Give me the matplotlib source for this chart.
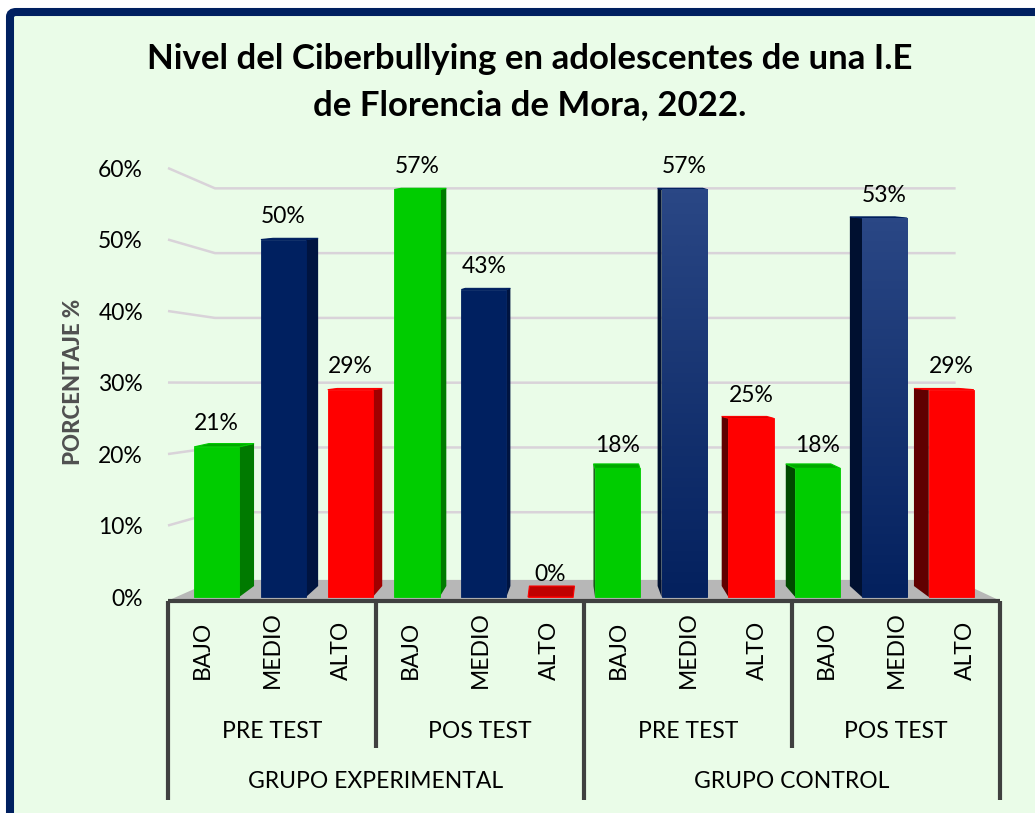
"""
Nivel del Ciberbullying - 3D-style grouped bar chart (Excel look).
"""

import matplotlib
matplotlib.use('Agg')
import matplotlib.pyplot as plt
from matplotlib.patches import Polygon, FancyBboxPatch
import numpy as np

# === DATA ===
NIVELES = ['BAJO', 'MEDIO', 'ALTO']
MOMENTOS = ['PRE TEST', 'POS TEST', 'PRE TEST', 'POS TEST']
GRUPOS = ['GRUPO EXPERIMENTAL', 'GRUPO CONTROL']
EXP_PRE = [0.21, 0.50, 0.29]
EXP_POS = [0.57, 0.43, 0.00]
CTRL_PRE = [0.18, 0.57, 0.25]
CTRL_POS = [0.18, 0.53, 0.29]
Y_TICKS = [0.0, 0.1, 0.2, 0.3, 0.4, 0.5, 0.6]

TITLE = 'Nivel del Ciberbullying en adolescentes de una I.E\nde Florencia de Mora, 2022.'

# === STYLE ===
BG = '#EAFCE8'
FRAME = '#002060'
GRID = '#D9D3D9'
FLOOR = '#B7B7B7'
AXIS = '#404040'
FRONT = ['#00CC00', '#002060', '#FF0000']
SIDE_R = ['#007A00', '#001440', '#A00000']   # side faces seen on the right
SIDE_L = ['#004A00', '#001030', '#600000']   # side faces seen on the left
TOP = ['#00A800', '#001848', '#CC0000']
FONT = 'Lato'
FS = 16.5

plt.rcParams.update({'font.family': FONT, 'font.size': FS})

W, H = 1035, 813
fig = plt.figure(figsize=(W / 100, H / 100), dpi=100)
fig.patch.set_facecolor('white')
frame = FancyBboxPatch((10 / W, -30 / H), (W + 30) / W, (H - 12 + 30) / H,
                       boxstyle='round,pad=0,rounding_size=0.006',
                       transform=fig.transFigure, facecolor=BG,
                       edgecolor=FRAME, linewidth=5.8, zorder=-5)
fig.patches.append(frame)

# axes geometry in pixels: data 0 -> 597 px, 715 px per unit
PX_Y = 715.0
bottom_px = 600.6
ylo, yhi = -0.005, 0.62
ax_h = (yhi - ylo) * PX_Y
ax = fig.add_axes([168 / W, 1 - bottom_px / H, 832 / W, ax_h / H])
ax.set_facecolor('none')
PX_X = 832 / 12.0
for s in ax.spines.values():
    s.set_visible(False)

values = EXP_PRE + EXP_POS + CTRL_PRE + CTRL_POS
n = len(values)
x = np.arange(n)
mid = (n - 1) / 2

# back wall / floor depth
floor_depth = 20 / PX_Y
back_left, back_right = 0.178, 10.86


def back_y(v):
    return floor_depth + 0.906 * v


# floor
ax.add_patch(Polygon([(-0.5, ylo), (11.5, ylo), (back_right, back_y(0) - 0.004),
                      (back_left, back_y(0) - 0.004)],
                     closed=True, facecolor=FLOOR, edgecolor='none', zorder=1))

# perspective grid lines
for v in Y_TICKS[1:]:
    ax.plot([-0.5, back_left, back_right], [v, back_y(v), back_y(v)],
            color=GRID, lw=1.8, zorder=0.5, clip_on=False, solid_capstyle='butt')

# bars with fake 3D faces
bar_w = 0.65
shift = (mid - x) * 0.0367
centers = x + shift
dx_all = -(x - mid) * 2.7 / PX_X
floor_back = 11 / PX_Y
navy_grad = np.linspace(1, 0, 64).reshape(-1, 1)
navy_cmap = matplotlib.colors.LinearSegmentedColormap.from_list('navy', ['#04215E', '#2A4785'])

for i, (c, v) in enumerate(zip(centers, values)):
    k = i % 3
    x0, x1 = c - bar_w / 2, c + bar_w / 2
    dx = dx_all[i]
    dyt = max(1.2, 11 * (1 - v / 0.3)) / PX_Y
    # side face
    xs = x1 if dx > 0 else x0
    side_col = SIDE_R[k] if dx > 0 else SIDE_L[k]
    ax.add_patch(Polygon([(xs, 0), (xs, v), (xs + dx, v + dyt), (xs + dx, floor_back)],
                         closed=True, facecolor=side_col, edgecolor='none', zorder=3))
    # top face
    ax.add_patch(Polygon([(x0, v), (x1, v), (x1 + dx, v + dyt), (x0 + dx, v + dyt)],
                         closed=True, facecolor=TOP[k] if v > 0 else '#C00000',
                         edgecolor=FRONT[k], linewidth=0.8, zorder=4))
    # front face
    bars = ax.bar(c, v, width=bar_w, color=FRONT[k], edgecolor=FRONT[k], linewidth=0.6,
                  zorder=5)
    if k == 1 and i >= 6:
        # control-group navy bars have a soft vertical gradient
        im = ax.imshow(navy_grad, cmap=navy_cmap, aspect='auto', extent=(x0, x1, 0, v),
                       zorder=5.5, interpolation='bicubic')
        im.set_clip_path(bars[0])
    ax.annotate(f'{v * 100:.0f}%', (c, v), xytext=(0, 9), textcoords='offset points',
                ha='center', va='bottom', fontsize=FS, color='black', zorder=6)

ax.set_xlim(-0.5, 11.5)
ax.set_ylim(ylo, yhi)

# front axis line
ax.plot([-0.5, 11.5], [ylo, ylo], color=AXIS, lw=3, zorder=7, clip_on=False,
        solid_capstyle='butt')

# y ticks
ax.set_yticks(Y_TICKS)
ax.set_yticklabels([f'{v * 100:.0f}%' for v in Y_TICKS], fontsize=FS)
ax.tick_params(axis='y', length=0, pad=18)
ax.set_xticks([])
fig.text(73 / W, 1 - 382 / H, 'PORCENTAJE %', rotation=90, ha='center', va='center',
         fontsize=16, fontweight='black', color='#505050')

# multi-level category axis
tr = ax.get_xaxis_transform()


def fy(px):
    return (bottom_px - px) / ax_h


for i in range(n):
    ax.text(i, fy(650), NIVELES[i % 3], rotation=90, ha='center', va='center',
            transform=tr, fontsize=FS)
for j, m in enumerate(MOMENTOS):
    ax.text(3 * j + 1, fy(732), m, ha='center', va='center', transform=tr, fontsize=FS)
for j, g in enumerate(GRUPOS):
    ax.text(6 * j + 2.5, fy(782), g, ha='center', va='center', transform=tr, fontsize=FS)

for xb in [-0.5, 5.5, 11.5]:
    ax.plot([xb, xb], [0, fy(800)], color=AXIS, lw=3, transform=tr, clip_on=False,
            solid_capstyle='butt')
for xb in [2.5, 8.5]:
    ax.plot([xb, xb], [0, fy(748)], color=AXIS, lw=3, transform=tr, clip_on=False,
            solid_capstyle='butt')

fig.text(530 / W, 1 - 82 / H, TITLE, ha='center', va='center', fontsize=25,
         fontweight='bold', linespacing=1.55)

fig.savefig('out.png', dpi=100, facecolor='white')
